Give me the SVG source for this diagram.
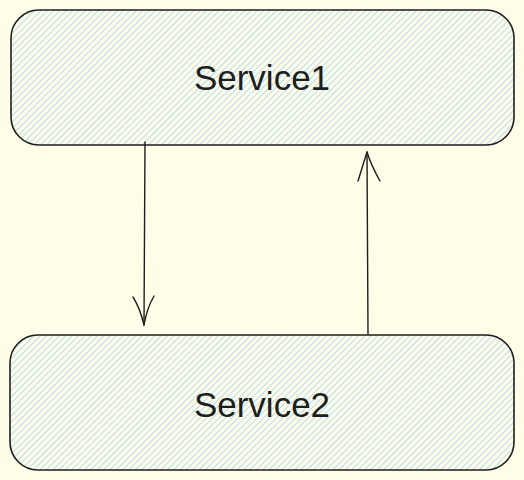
<svg xmlns="http://www.w3.org/2000/svg" width="524" height="480" viewBox="0 0 524 480">
<defs>
<pattern id="hatch" patternUnits="userSpaceOnUse" width="4.5" height="4.5" patternTransform="rotate(45)">
<rect width="4.5" height="4.5" fill="#fdfbe6"/>
<line x1="0" y1="0" x2="0" y2="4.5" stroke="#a5d8ff" stroke-width="1.6"/>
</pattern>
</defs>
<style>
.box{fill:url(#hatch);stroke:#1e1e1e;stroke-width:1.6}
.lbl{font-family:"Liberation Sans",Arial,sans-serif;font-size:35px;fill:#1e1e1e;text-anchor:middle}
.edge{fill:none;stroke:#1e1e1e;stroke-width:1.4;stroke-linecap:round;stroke-linejoin:round}
</style>
<rect width="524" height="480" fill="#fffce8"/>
<g id="service1">
<rect class="box" x="11" y="10" width="503" height="135" rx="28" ry="28"/>
<text class="lbl" x="262" y="90">Service1</text>
</g>
<g id="service2">
<rect class="box" x="10" y="335" width="504" height="135" rx="28" ry="28"/>
<text class="lbl" x="262" y="417">Service2</text>
</g>
<g id="connectors">
<path class="edge" d="M145 142 L144 325"/>
<path class="edge" d="M133 297 Q140 308 144 325 Q147 308 154 296"/>
<path class="edge" d="M368 334 L367 152"/>
<path class="edge" d="M358 181 Q363 165 367 152 Q371 165 380 181"/>
</g>
</svg>
